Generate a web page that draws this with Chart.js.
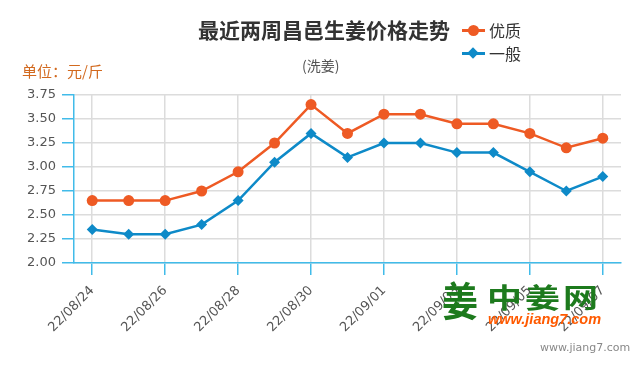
<!DOCTYPE html>
<html>
<head>
<meta charset="utf-8">
<script src="https://cdn.jsdelivr.net/npm/chart.js@4.4.1/dist/chart.umd.min.js"></script>
<style>
    html, body { margin: 0; padding: 0; background: #fff; }
    #wrap { position: relative; width: 642px; height: 368px; overflow: hidden; }
    #wrap canvas { position: absolute; left: 0; top: 0; }
    .txt { position: absolute; white-space: nowrap; line-height: 1; }
    .cjk { font-family: 'Noto Sans CJK SC', sans-serif; }
    .title { left: 198px; top: 19px; font-size: 21px; font-weight: bold; color: #333; }
    .sub { left: 302px; top: 58px; font-size: 14px; color: #555; }
    .unit { left: 22px; top: 63px; font-size: 15px; color: #d2691e; }
    .leg { left: 462px; font-size: 16px; color: #333; }
    .leg i { position: absolute; left: 0; width: 23px; height: 3px; top: 7px; }
    .leg b { position: absolute; }
    .leg span { position: absolute; left: 27px; top: 0; }
    .footer { left: 540px; top: 342px; font-size: 11px; color: #888; font-family: 'DejaVu Sans', sans-serif; }
    .logo1 { left: 442px; top: 278px; font-size: 36px; font-weight: bold; color: #1d7a1d; transform: scaleY(1.12); transform-origin: 0 0; }
    .logo2 { left: 487px; top: 282px; font-size: 35px; font-weight: bold; color: #1d7a1d; letter-spacing: 3px; transform: scaleY(0.78); transform-origin: 0 0; }
    .logo3 { left: 488px; top: 312px; font-size: 14.5px; font-weight: bold; font-style: italic; color: #ff5a00; font-family: 'Liberation Sans', sans-serif; }
</style>
</head>
<body>
<div id="wrap">
    <canvas id="priceChart" width="642" height="368"></canvas>
    <div class="txt cjk title">最近两周昌邑生姜价格走势</div>
    <div class="txt cjk sub">(洗姜)</div>
    <div class="txt cjk unit">单位：元/斤</div>
    <div class="txt cjk leg" style="top:22px">
        <i style="background:#ee5a24"></i>
        <b style="left:6px;top:3px;width:11px;height:11px;border-radius:50%;background:#ee5a24"></b>
        <span>优质</span>
    </div>
    <div class="txt cjk leg" style="top:45px">
        <i style="background:#0e8ac8"></i>
        <b style="left:7px;top:4px;width:8px;height:8px;transform:rotate(45deg);background:#0e8ac8"></b>
        <span>一般</span>
    </div>
    <div class="txt cjk logo1">姜</div>
    <div class="txt cjk logo2">中姜网</div>
    <div class="txt logo3">www.jiang7.com</div>
    <div class="txt footer">www.jiang7.com</div>
</div>
<script>
// Dates (two weeks)
const dates = ['22/08/24', '22/08/25', '22/08/26', '22/08/27', '22/08/28', '22/08/29', '22/08/30',
    '22/08/31', '22/09/01', '22/09/02', '22/09/03', '22/09/04', '22/09/05', '22/09/06', '22/09/07'];

// Prices, yuan per jin
const goodPrices = [2.65, 2.65, 2.65, 2.75, 2.95, 3.25, 3.65, 3.35, 3.55, 3.55, 3.45, 3.45, 3.35, 3.20, 3.30];
const normalPrices = [2.35, 2.30, 2.30, 2.40, 2.65, 3.05, 3.35, 3.10, 3.25, 3.25, 3.15, 3.15, 2.95, 2.75, 2.90];

const yMin = 2.00;
const yMax = 3.75;
const yStep = 0.25;

const axisBlue = '#41bbe9';
const gridGrey = '#dcdcdc';

Chart.defaults.font.family = "'DejaVu Sans', sans-serif";
Chart.defaults.color = '#555';

new Chart(document.getElementById('priceChart'), {
    type: 'line',
    data: {
        labels: dates,
        datasets: [
            {
                label: '优质',
                data: goodPrices,
                borderColor: '#ee5a24',
                backgroundColor: '#ee5a24',
                borderWidth: 2.5,
                pointStyle: 'circle',
                pointRadius: 5.5,
                pointBorderWidth: 0,
                tension: 0
            },
            {
                label: '一般',
                data: normalPrices,
                borderColor: '#0e8ac8',
                backgroundColor: '#0e8ac8',
                borderWidth: 2.5,
                pointStyle: 'rectRot',
                pointRadius: 5.5,
                pointBorderWidth: 0,
                tension: 0
            }
        ]
    },
    options: {
        responsive: false,
        animation: false,
        layout: {
            padding: { top: 95, right: 21, left: 0, bottom: 0 }
        },
        plugins: {
            legend: { display: false },
            title: { display: false },
            tooltip: { enabled: false }
        },
        scales: {
            x: {
                offset: true,
                afterFit: function(scale) { scale.height = 105; },
                border: { color: axisBlue, width: 1.5 },
                grid: {
                    lineWidth: 1.5,
                    tickLength: 12,
                    color: ctx => ctx.index % 2 === 0 ? gridGrey : 'rgba(0,0,0,0)',
                    tickColor: ctx => ctx.index % 2 === 0 ? axisBlue : 'rgba(0,0,0,0)'
                },
                ticks: {
                    autoSkip: false,
                    minRotation: 45,
                    maxRotation: 45,
                    padding: 8,
                    font: { size: 13 },
                    callback: function(value, index) {
                        return index % 2 === 0 ? this.getLabelForValue(value) : '';
                    }
                }
            },
            y: {
                min: yMin,
                max: yMax,
                afterFit: function(scale) { scale.width = 74; },
                border: { color: axisBlue, width: 1.5 },
                grid: {
                    lineWidth: 1.5,
                    tickLength: 12,
                    color: gridGrey,
                    tickColor: axisBlue
                },
                ticks: {
                    stepSize: yStep,
                    padding: 6,
                    font: { size: 13 },
                    callback: value => value.toFixed(2)
                }
            }
        }
    }
});
</script>
</body>
</html>
